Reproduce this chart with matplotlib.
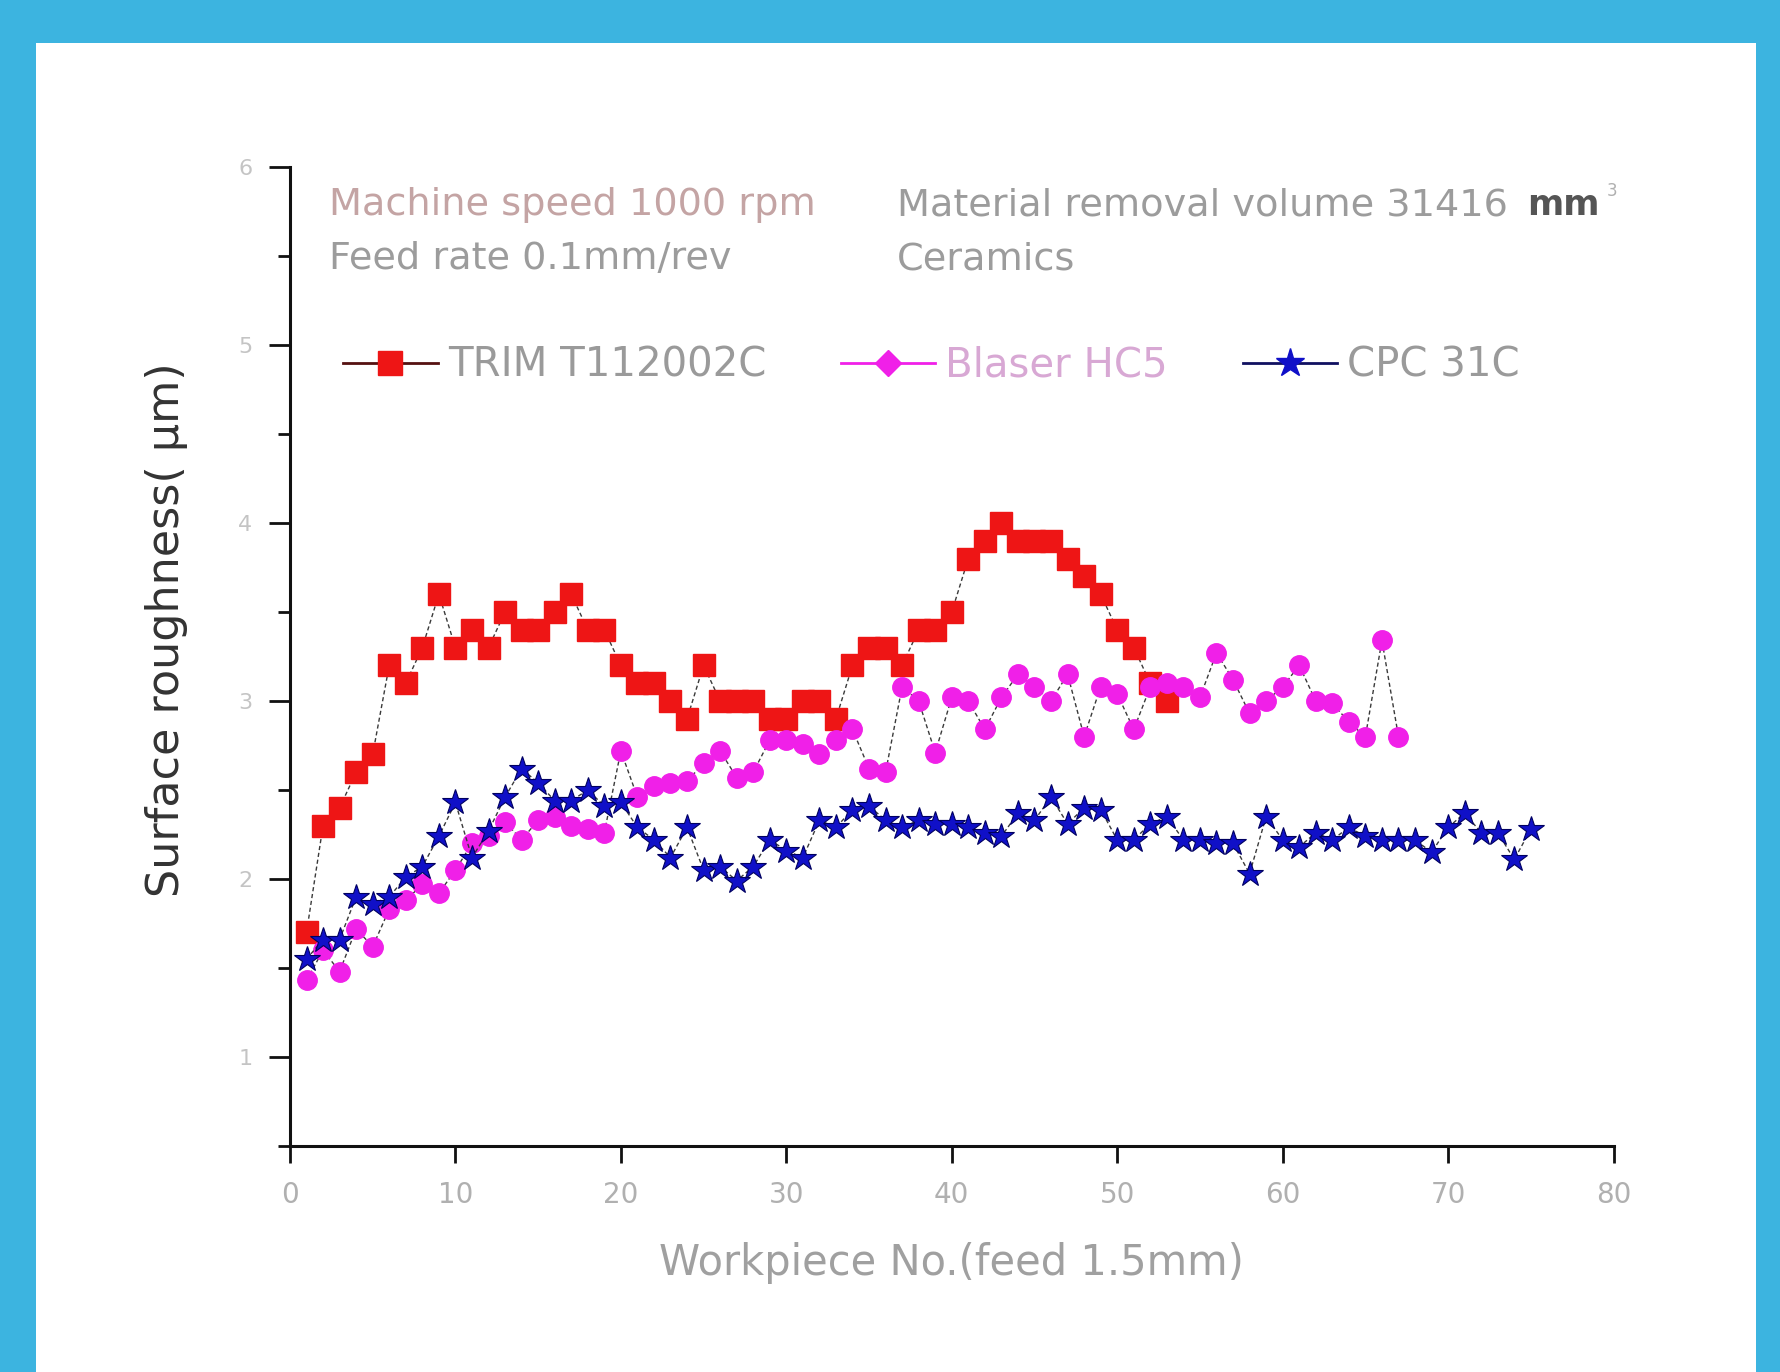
import matplotlib
matplotlib.use("Agg")
import matplotlib.pyplot as plt
from matplotlib.patches import Rectangle
from matplotlib.lines import Line2D
from matplotlib.ticker import MultipleLocator

# surface roughness (um) per workpiece
trim_x = list(range(1, 54))
trim_y = [1.7, 2.3, 2.4, 2.6, 2.7, 3.2, 3.1, 3.3, 3.6, 3.3,
          3.4, 3.3, 3.5, 3.4, 3.4, 3.5, 3.6, 3.4, 3.4, 3.2,
          3.1, 3.1, 3.0, 2.9, 3.2, 3.0, 3.0, 3.0, 2.9, 2.9,
          3.0, 3.0, 2.9, 3.2, 3.3, 3.3, 3.2, 3.4, 3.4, 3.5,
          3.8, 3.9, 4.0, 3.9, 3.9, 3.9, 3.8, 3.7, 3.6, 3.4,
          3.3, 3.1, 3.0]

blaser_x = list(range(1, 68))
blaser_y = [1.43, 1.6, 1.48, 1.72, 1.62, 1.83, 1.88, 1.97, 1.92, 2.05,
            2.2, 2.24, 2.32, 2.22, 2.33, 2.35, 2.3, 2.28, 2.26, 2.72,
            2.46, 2.52, 2.54, 2.55, 2.65, 2.72, 2.57, 2.6, 2.78, 2.78,
            2.76, 2.7, 2.78, 2.84, 2.62, 2.6, 3.08, 3.0, 2.71, 3.02,
            3.0, 2.84, 3.02, 3.15, 3.08, 3.0, 3.15, 2.8, 3.08, 3.04,
            2.84, 3.08, 3.1, 3.08, 3.02, 3.27, 3.12, 2.93, 3.0, 3.08,
            3.2, 3.0, 2.99, 2.88, 2.8, 3.34, 2.8]

cpc_x = list(range(1, 76))
cpc_y = [1.55, 1.66, 1.66, 1.9, 1.86, 1.9, 2.01, 2.07, 2.24, 2.43,
         2.12, 2.27, 2.46, 2.62, 2.54, 2.44, 2.44, 2.5, 2.41, 2.43,
         2.29, 2.22, 2.12, 2.29, 2.05, 2.07, 1.99, 2.07, 2.22, 2.16,
         2.12, 2.33, 2.29, 2.39, 2.41, 2.33, 2.29, 2.33, 2.31, 2.31,
         2.29, 2.26, 2.24, 2.37, 2.33, 2.46, 2.31, 2.4, 2.39, 2.22,
         2.22, 2.31, 2.35, 2.22, 2.22, 2.2, 2.2, 2.03, 2.35, 2.22,
         2.18, 2.26, 2.22, 2.29, 2.24, 2.22, 2.22, 2.22, 2.15, 2.29,
         2.37, 2.26, 2.26, 2.11, 2.28]

labels = ["TRIM T112002C", "Blaser HC5", "CPC 31C"]
colors = ["#ee1515", "#f020e8", "#1010c8"]
label_colors = ["#9a9a9a", "#d8a8d4", "#9a9a9a"]

fig = plt.figure(figsize=(17.8, 13.72), dpi=100)
fig.patch.set_facecolor("#3cb4e0")
# white panel inside the blue frame
fig.patches.append(Rectangle((0.0202, 0.0), 0.9663, 0.9687,
                             transform=fig.transFigure, facecolor="white",
                             edgecolor="none", zorder=-10))

ax = fig.add_axes([0.1629, 0.1647, 0.7436, 0.7136])
ax.set_facecolor("white")
ax.set_zorder(1)

line_col = "#3a3a3a"
dash = (0, (3, 2))
ax.plot(trim_x, trim_y, color=line_col, lw=1.0, ls=dash, marker="s", ms=16,
        mfc=colors[0], mec=colors[0], zorder=3)
ax.plot(blaser_x, blaser_y, color=line_col, lw=1.0, ls=dash, marker="o", ms=14,
        mfc=colors[1], mec=colors[1], zorder=3)
ax.plot(cpc_x, cpc_y, color=line_col, lw=1.0, ls=dash, marker="*", ms=19,
        mfc=colors[2], mec="#000060", mew=0.8, zorder=4)

ax.set_xlim(0, 80)
ax.set_ylim(0.5, 6)
ax.xaxis.set_major_locator(MultipleLocator(10))
ax.yaxis.set_major_locator(MultipleLocator(1))
ax.yaxis.set_minor_locator(MultipleLocator(0.5))
ax.set_yticks([1, 2, 3, 4, 5, 6])

for s in ["top", "right"]:
    ax.spines[s].set_visible(False)
for s in ["left", "bottom"]:
    ax.spines[s].set_linewidth(2.2)
    ax.spines[s].set_color("#111111")

ax.tick_params(axis="x", which="major", direction="out", length=12, width=2,
               color="#111111", labelsize=20, labelcolor="#b0b0b0", pad=13)
ax.tick_params(axis="y", which="major", direction="out", length=15, width=2,
               color="#111111", labelsize=16, labelcolor="#c4c4c4", pad=12)
ax.tick_params(axis="y", which="minor", direction="out", length=9, width=2,
               color="#111111")

ax.set_xlabel("Workpiece No.(feed 1.5mm)", fontsize=30, color="#a0a0a0",
              labelpad=24)
ax.set_ylabel("Surface roughness( μm)", fontsize=32, color="#333333",
              labelpad=36)
ax.yaxis.label.set_y(0.527)

# condition notes
ax.text(0.0295, 0.961, "Machine speed 1000 rpm", transform=ax.transAxes,
        fontsize=27.5, color="#c4a4a4", va="center", ha="left")
ax.text(0.0295, 0.906, "Feed rate 0.1mm/rev", transform=ax.transAxes,
        fontsize=27.5, color="#9c9c9c", va="center", ha="left")
t = ax.text(0.4586, 0.961, "Material removal volume 31416", transform=ax.transAxes,
            fontsize=27.5, color="#9c9c9c", va="center", ha="left")
mm = ax.annotate("mm", xy=(1, 0.5), xycoords=t, xytext=(14, 0),
                 textcoords="offset points", fontsize=25, fontweight="bold",
                 color="#555555", va="center", ha="left")
ax.annotate("3", xy=(1, 1), xycoords=mm, xytext=(5, -2),
            textcoords="offset points", fontsize=12, color="#b0b0b0",
            va="center", ha="left")
ax.text(0.4586, 0.906, "Ceramics", transform=ax.transAxes,
        fontsize=27.5, color="#9c9c9c", va="center", ha="left")

handles = [
    Line2D([], [], color="#551111", lw=2, marker="s", ms=17,
           mfc=colors[0], mec=colors[0]),
    Line2D([], [], color=colors[1], lw=2, marker="D", ms=13,
           mfc=colors[1], mec=colors[1]),
    Line2D([], [], color="#101060", lw=2, marker="*", ms=21,
           mfc=colors[2], mec=colors[2]),
]
leg = ax.legend(handles, labels, ncol=3, loc="center left",
                bbox_to_anchor=(0.028, 0.797), frameon=False, fontsize=29,
                handlelength=2.35, handletextpad=0.25, columnspacing=1.85,
                borderaxespad=0)
for txt, c in zip(leg.get_texts(), label_colors):
    txt.set_color(c)

fig.savefig("out.png", dpi=100, facecolor=fig.get_facecolor())
